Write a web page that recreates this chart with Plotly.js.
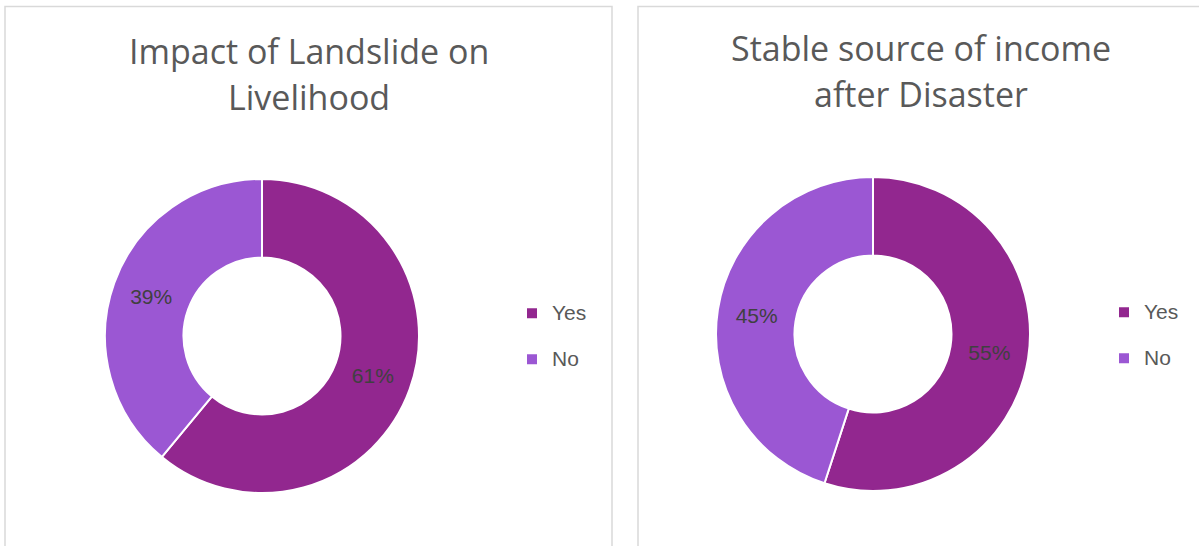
<!DOCTYPE html>
<html><head><meta charset="utf-8">
<script src="https://cdn.plot.ly/plotly-3.0.1.min.js"></script>
<style>html,body{margin:0;padding:0;background:#fff}
#wrap{position:relative;width:1199px;height:546px}
#c1,#c2{position:absolute;left:0;top:0;width:1199px;height:546px}</style>
</head><body><div id="wrap"><div id="c1"></div><div id="c2"></div></div>
<script>
const categories = ["Yes", "No"];
const impactValues = [61, 39];
const incomeValues = [55, 45];
const titles = ["Impact of Landslide on<br>Livelihood", "Stable source of income<br>after Disaster"];
const colors = ["#92278F", "#9B57D3"];

const W = 1199, H = 546;
const px = x => x / W, py = y => 1 - y / H;
// legend entries: visible label on the first line, empty second line to widen row spacing
const legendLabels = categories.map(c => "<span style='font-size:21px'>" + c + "</span><br> ");

function pie(values, x0, x1, top, bottom) {
  return {
    type: "pie", values: values, labels: legendLabels,
    sort: false, direction: "clockwise", rotation: 0, hole: 0.5,
    domain: {x: [px(x0), px(x1)], y: [py(bottom), py(top)]},
    marker: {colors: colors, line: {color: "#ffffff", width: 2}},
    textinfo: "percent", textposition: "inside", insidetextorientation: "horizontal",
    texttemplate: "%{percent:.0%}",
    textfont: {family: "Liberation Sans, Arial, sans-serif", size: 21, color: "#404040"},
    hoverinfo: "none", showlegend: true
  };
}

const legFont = {family: "Liberation Sans, Arial, sans-serif", size: 16.5, color: "#595959"};
function legend(xSym, yTop) {
  return {x: px(xSym - 20), y: py(yTop), xanchor: "left", yanchor: "top", font: legFont,
          bgcolor: "rgba(0,0,0,0)", valign: "top", itemclick: false, itemdoubleclick: false};
}
const titleFont = {family: "'Open Sans', 'Noto Sans', sans-serif", size: 34, color: "#595959"};
function titleAnns(t, cx, y1, y2) {
  const lines = t.split("<br>");
  return [
    {text: lines[0], xref: "paper", yref: "paper", x: px(cx), y: py(y1), xanchor: "center", yanchor: "middle", showarrow: false, font: titleFont},
    {text: lines[1], xref: "paper", yref: "paper", x: px(cx), y: py(y2), xanchor: "center", yanchor: "middle", showarrow: false, font: titleFont}
  ];
}

const layout1 = {
  width: W, height: H, margin: {l: 0, r: 0, t: 0, b: 0},
  paper_bgcolor: "#ffffff", plot_bgcolor: "#ffffff",
  legend: legend(532, 296),
  shapes: [
    {type: "rect", xref: "paper", yref: "paper", x0: px(5), x1: px(612), y0: -0.05, y1: py(6.5), line: {color: "#d9d9d9", width: 1.5}, fillcolor: "rgba(0,0,0,0)", layer: "below"},
    {type: "rect", xref: "paper", yref: "paper", x0: px(638), x1: 1.05, y0: -0.05, y1: py(6.5), line: {color: "#d9d9d9", width: 1.5}, fillcolor: "rgba(0,0,0,0)", layer: "below"}
  ],
  annotations: titleAnns(titles[0], 309, 51, 97).concat(titleAnns(titles[1], 921, 48, 94))
};
const layout2 = {
  width: W, height: H, margin: {l: 0, r: 0, t: 0, b: 0},
  paper_bgcolor: "rgba(0,0,0,0)", plot_bgcolor: "rgba(0,0,0,0)",
  legend: legend(1124, 295)
};
const cfg = {displayModeBar: false, staticPlot: true};
Plotly.newPlot("c1", [pie(impactValues, 105, 419, 179, 493)], layout1, cfg);
Plotly.newPlot("c2", [pie(incomeValues, 716, 1030, 177, 491)], layout2, cfg);
</script></body></html>
